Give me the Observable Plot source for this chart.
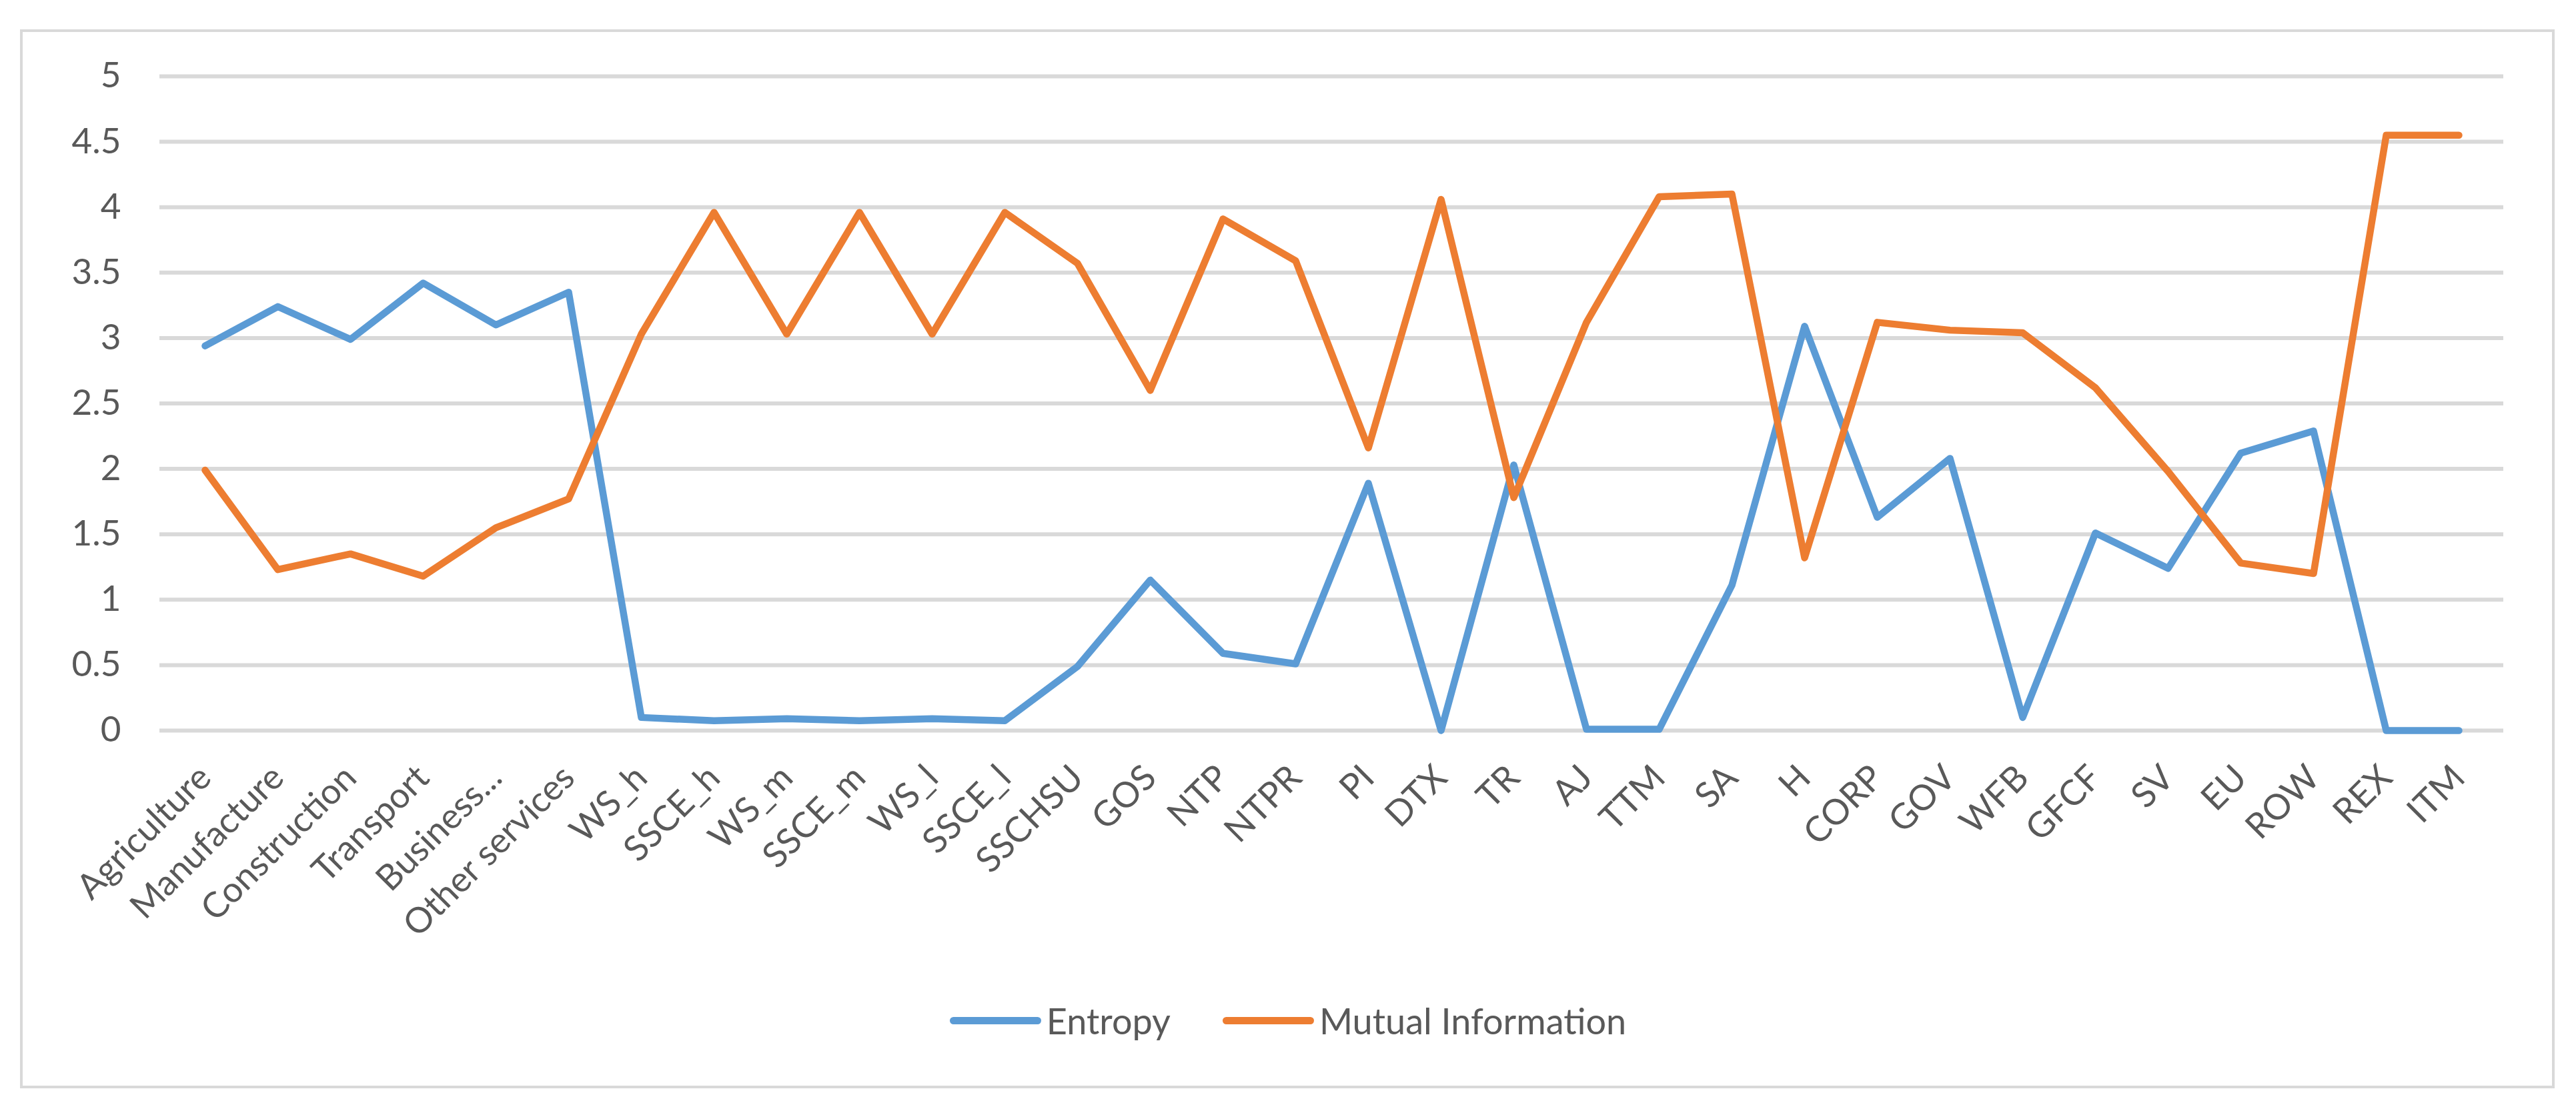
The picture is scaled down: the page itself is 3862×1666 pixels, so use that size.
<!DOCTYPE html>
<html>
<head>
<meta charset="utf-8">
<script src="https://cdn.jsdelivr.net/npm/d3@7"></script>
<script src="https://cdn.jsdelivr.net/npm/@observablehq/plot@0.6"></script>
<style>
  html, body { margin: 0; padding: 0; background: #ffffff; }
  body { width: 3862px; height: 1666px; position: relative; overflow: hidden; font-family: Lato, "Open Sans", sans-serif; }
  #frame { position: absolute; left: 30px; top: 44px; width: 3800px; height: 1588px; box-sizing: border-box; border: 4px solid #D9D9D9; pointer-events: none; }
  #chart { position: absolute; left: 0; top: 0; width: 3862px; }
  #legend { height: 180px; display: flex; justify-content: center; align-items: center; gap: 78px; font-size: 54px; color: #595959; }
  .item { display: flex; align-items: center; gap: 8px; }
  .swatch { width: 137px; height: 11px; border-radius: 6px; }
</style>
</head>
<body>
<div id="frame"></div>
<div id="chart"></div>
<script>
const categories = ["Agriculture", "Manufacture", "Construction", "Transport", "Business...", "Other services",
  "WS_h", "SSCE_h", "WS_m", "SSCE_m", "WS_l", "SSCE_l", "SSCHSU", "GOS", "NTP", "NTPR", "PI", "DTX", "TR", "AJ",
  "TTM", "SA", "H", "CORP", "GOV", "WFB", "GFCF", "SV", "EU", "ROW", "REX", "ITM"];
const entropy = [2.94, 3.24, 2.99, 3.42, 3.10, 3.35,
  0.10, 0.075, 0.09, 0.075, 0.09, 0.075, 0.49, 1.15, 0.59, 0.51, 1.89, 0.0, 2.03, 0.01,
  0.01, 1.11, 3.09, 1.63, 2.08, 0.10, 1.51, 1.24, 2.12, 2.29, 0.0, 0.0];
const mutualInformation = [1.99, 1.23, 1.35, 1.18, 1.55, 1.77,
  3.03, 3.96, 3.03, 3.96, 3.03, 3.96, 3.57, 2.60, 3.91, 3.59, 2.16, 4.06, 1.78, 3.12,
  4.08, 4.10, 1.32, 3.12, 3.06, 3.04, 2.62, 1.98, 1.28, 1.20, 4.55, 4.55];
const yTicks = [0, 0.5, 1, 1.5, 2, 2.5, 3, 3.5, 4, 4.5, 5];
const seriesNames = ["Entropy", "Mutual Information"];
const seriesColors = ["#5B9BD5", "#ED7D31"];

const rows = categories.map((c, i) => ({cat: c, entropy: entropy[i], mi: mutualInformation[i]}));

const chart = Plot.plot({
  width: 3862,
  height: 1440,
  marginLeft: 239,
  marginRight: 109,
  marginTop: 114,
  marginBottom: 345,
  style: {fontFamily: "Lato, 'Open Sans', sans-serif", fontSize: "53px", color: "#595959", background: "transparent"},
  x: {type: "point", domain: categories, padding: 0.5},
  y: {domain: [0, 5]},
  marks: [
    Plot.gridY(yTicks, {stroke: "#D9D9D9", strokeOpacity: 1, strokeWidth: 6}),
    Plot.axisY({ticks: yTicks, tickSize: 0, tickPadding: 58, tickFormat: d => String(d), label: null, fill: "#595959"}),
    Plot.axisX({tickSize: 0, tickRotate: -45, tickPadding: 62, label: null, fill: "#595959"}),
    Plot.line(rows, {x: "cat", y: "entropy", stroke: seriesColors[0], strokeWidth: 10.5, strokeLinejoin: "round", strokeLinecap: "round"}),
    Plot.line(rows, {x: "cat", y: "mi", stroke: seriesColors[1], strokeWidth: 10.5, strokeLinejoin: "round", strokeLinecap: "round"})
  ]
});
const holder = document.getElementById("chart");
holder.appendChild(chart);

const legend = document.createElement("div");
legend.id = "legend";
seriesNames.forEach((name, i) => {
  const item = document.createElement("div");
  item.className = "item";
  const sw = document.createElement("span");
  sw.className = "swatch";
  sw.style.background = seriesColors[i];
  const label = document.createElement("span");
  label.textContent = name;
  item.appendChild(sw);
  item.appendChild(label);
  legend.appendChild(item);
});
holder.appendChild(legend);
</script>
</body>
</html>
